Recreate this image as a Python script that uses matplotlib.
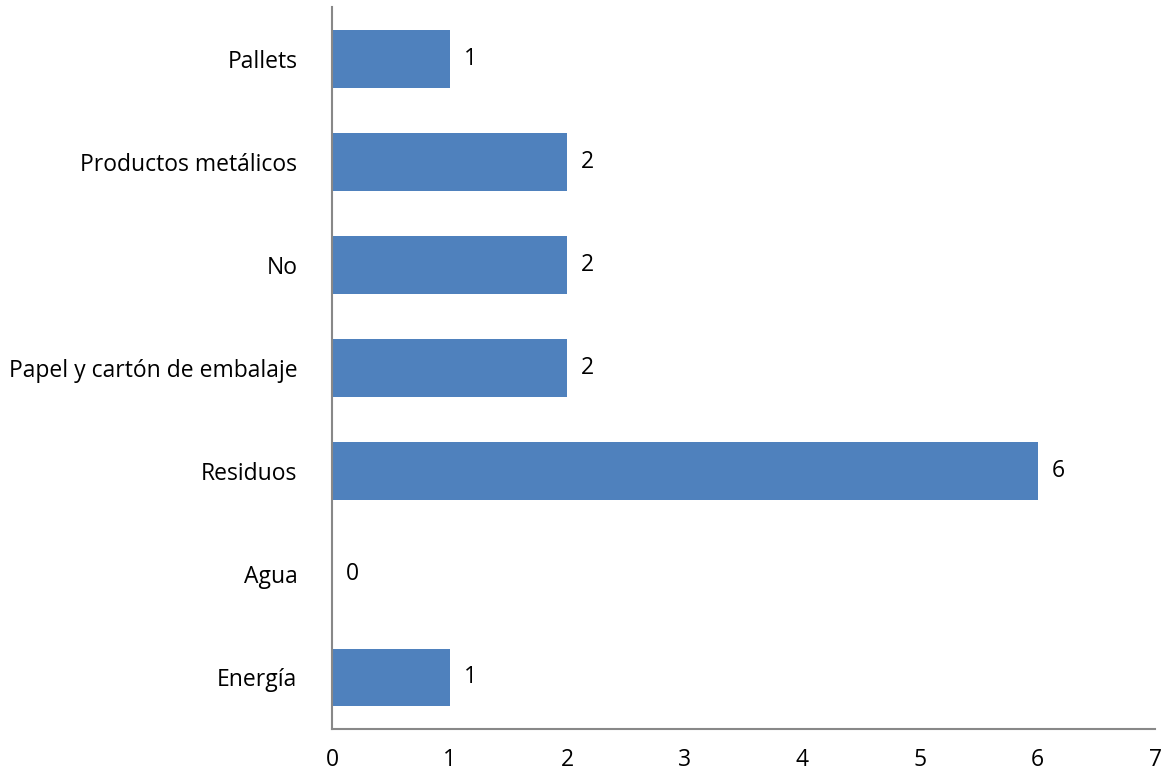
import matplotlib
matplotlib.use("Agg")
import matplotlib.pyplot as plt

categories = ["Energía", "Agua", "Residuos", "Papel y cartón de embalaje", "No", "Productos metálicos", "Pallets"]
values = [1, 0, 6, 2, 2, 2, 1]
xticks = [0, 1, 2, 3, 4, 5, 6, 7]

plt.rcParams['font.family'] = ['Open Sans', 'DejaVu Sans']
FS = 16.5

fig = plt.figure(figsize=(11.61, 7.76), dpi=100)
ax = fig.add_axes([0.286, 0.0606, 0.709, 0.930])

ypos = list(range(len(categories)))
ax.barh(ypos, values, height=0.56, color="#4F81BD")
for y, v in zip(ypos, values):
    ax.text(v + 0.12, y, str(v), va="center", ha="left", fontsize=FS, color="black")

ax.set_xlim(0, 7)
ax.set_ylim(-0.5, len(categories) - 0.5)
ax.set_yticks(ypos)
ax.set_yticklabels(categories, fontsize=FS)
ax.set_xticks(xticks)
ax.set_xticklabels([str(t) for t in xticks], fontsize=FS)
ax.tick_params(axis="both", length=0)
ax.tick_params(axis="y", pad=25)
ax.tick_params(axis="x", pad=14)
for s in ["top", "right"]:
    ax.spines[s].set_visible(False)
for s in ["left", "bottom"]:
    ax.spines[s].set_color("#888888")
    ax.spines[s].set_linewidth(1.5)

fig.savefig("out.png", dpi=100)
